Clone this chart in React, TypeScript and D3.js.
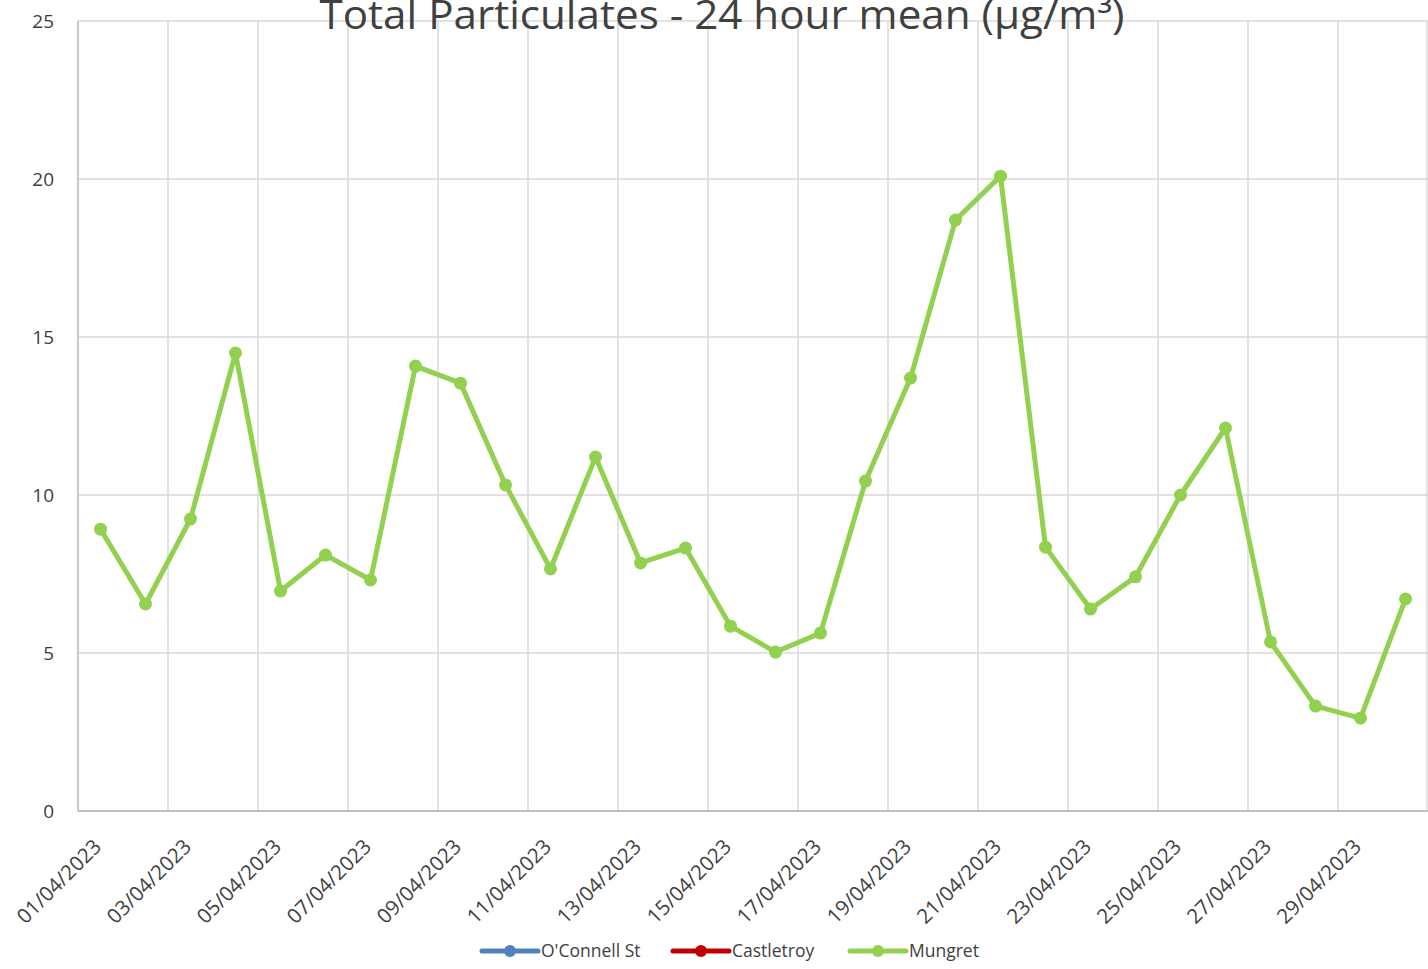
import React from "react";
import * as d3 from "d3";

const dates = Array.from({ length: 30 }, (_, i) => `${String(i + 1).padStart(2, "0")}/04/2023`);
const mungret = [8.92, 6.55, 9.24, 14.49, 6.96, 8.10, 7.31, 14.08, 13.54, 10.32, 7.66, 11.2, 7.85, 8.32, 5.85, 5.03, 5.63, 10.44, 13.70, 18.70, 20.09, 8.35, 6.39, 7.41, 10.0, 12.12, 5.35, 3.32, 2.94, 6.71];
const yTicks = [0, 5, 10, 15, 20, 25];
const legendItems = [
  { name: "O'Connell St", color: "#4f81bd" },
  { name: "Castletroy", color: "#c00000" },
  { name: "Mungret", color: "#92d050" },
];

const W = 1428, H = 969;
const left = 78, right = 1428, top = 21, bottom = 811;
const FONT = "'Open Sans', 'Liberation Sans', sans-serif";

export default function App() {
  const x = d3.scaleBand<string>().domain(dates).range([left, right]).padding(0);
  const y = d3.scaleLinear().domain([0, 25]).range([bottom, top]);
  const cx = (d: string) => (x(d) as number) + x.bandwidth() / 2;
  const line = d3.line<number>().x((_, i) => cx(dates[i])).y((v) => y(v));
  const gridX = dates.filter((_, i) => i % 2 === 0).map((d) => x(d) as number).concat([right - 1]);
  const legendX = [482, 673, 850];
  return (
    <svg width={W} height={H} style={{ position: "absolute", left: 0, top: 0, background: "#fff" }}>
      <rect width={W} height={H} fill="#fff" />
      {yTicks.map((t) => (
        <line key={"gy" + t} x1={left} x2={right} y1={y(t)} y2={y(t)} stroke="#d9d9d9" strokeWidth={1.5} />
      ))}
      {gridX.map((gx, i) => (
        <line key={"gx" + i} x1={gx} x2={gx} y1={top} y2={bottom} stroke="#d9d9d9" strokeWidth={1.5} />
      ))}
      <line x1={left} x2={right} y1={bottom} y2={bottom} stroke="#bfbfbf" strokeWidth={2} />
      <line x1={left} x2={left} y1={top} y2={bottom} stroke="#bfbfbf" strokeWidth={1.5} />
      {yTicks.map((t) => (
        <text key={"yl" + t} x={54} y={y(t)} dy="0.35em" textAnchor="end" fontFamily={FONT} fontSize={19} fill="#404040">
          {t}
        </text>
      ))}
      {dates.map((d, i) =>
        i % 2 === 0 ? (
          <text key={"xl" + d} transform={`translate(${cx(d) + 2},${bottom + 37}) rotate(-45)`} textAnchor="end" fontFamily={FONT} fontSize={20.5} fill="#404040">
            {d}
          </text>
        ) : null
      )}
      <path d={line(mungret) || ""} fill="none" stroke="#92d050" strokeWidth={5} strokeLinejoin="round" />
      {mungret.map((v, i) => (
        <circle key={"p" + i} cx={cx(dates[i])} cy={y(v)} r={6.5} fill="#92d050" />
      ))}
      <text x={722} y={29} textAnchor="middle" fontFamily={FONT} fontSize={40} fill="#404040" textLength={805} lengthAdjust="spacingAndGlyphs">
        Total Particulates - 24 hour mean (µg/m³)
      </text>
      {legendItems.map((it, i) => (
        <g key={it.name} transform={`translate(${legendX[i]},951)`}>
          <line x1={0} x2={56} y1={0} y2={0} stroke={it.color} strokeWidth={5} strokeLinecap="round" />
          <circle cx={28} cy={0} r={6} fill={it.color} />
          <text x={59} y={0} dy="0.35em" fontFamily={FONT} fontSize={17.5} fill="#404040">
            {it.name}
          </text>
        </g>
      ))}
    </svg>
  );
}
